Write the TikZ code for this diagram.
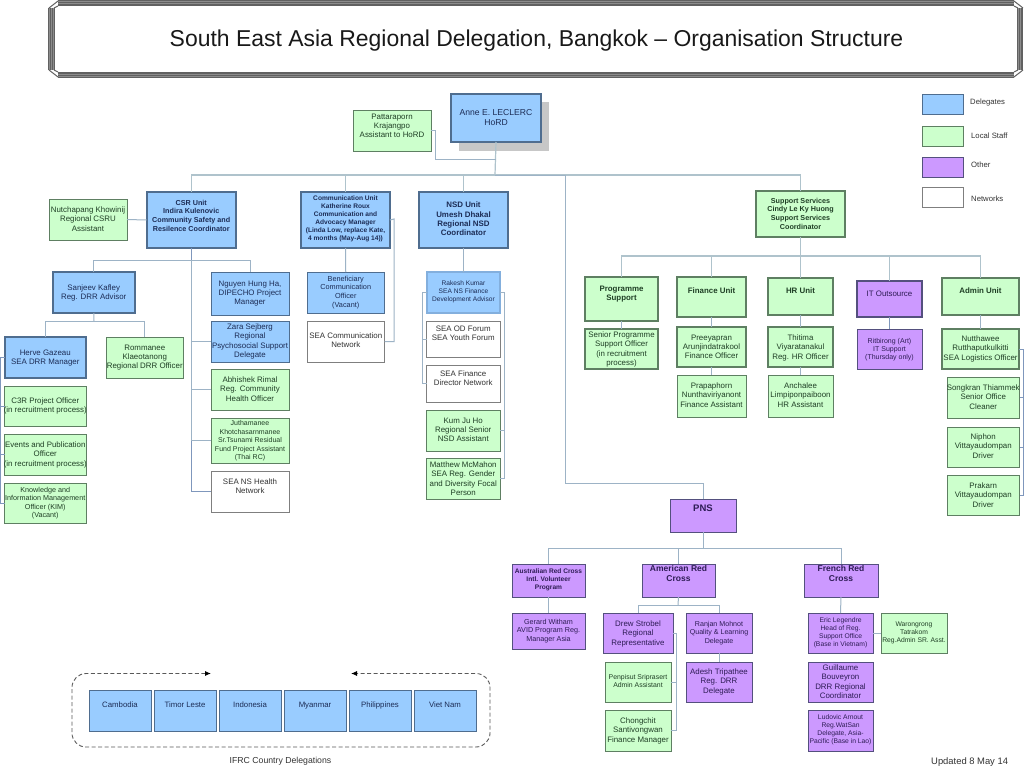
\documentclass[tikz,border=0pt]{standalone}
\usepackage{fontspec}
\setmainfont{Liberation Sans}
\usetikzlibrary{arrows.meta}
\definecolor{cblue}{HTML}{99CCFF}
\definecolor{cgreen}{HTML}{CCFFCC}
\definecolor{cpurple}{HTML}{CC99FF}
\definecolor{lblue}{HTML}{4F6D8F}
\definecolor{lgreen}{HTML}{5E7F62}
\definecolor{lpurple}{HTML}{54507E}
\definecolor{lwhite}{HTML}{7F7F7F}
\definecolor{tblue}{HTML}{1C2C55}
\definecolor{tgreen}{HTML}{1F3F25}
\definecolor{tpurple}{HTML}{2E1C55}
\definecolor{twhite}{HTML}{333333}
\definecolor{wire}{HTML}{9DB3C6}
\definecolor{wiretop}{HTML}{AFC3CC}
\definecolor{wirebold}{HTML}{7F97BC}
\newcommand{\ftsize}[2]{\fontsize{#1}{#2}\selectfont}
% name, x1, y1, x2, y2, style, top pad, text
\newcommand{\bx}[8]{%
  \pgfmathsetlengthmacro{\bw}{#4-#2}%
  \pgfmathsetlengthmacro{\bh}{#5-#3}%
  \node[orgbox,#6] (#1) at (#2,#3) {\vbox to \bh{\hrule height 0pt width \bw\relax\hsize=\bw\relax\kern #7pt\kern 1pt\relax
    \tolerance=9999\leftskip=-6pt plus 1fil\rightskip=-6pt plus 1fil\parfillskip=0pt\parindent=0pt\parskip=0pt\relax
    \let\\\par\relax #8\par\vss}};}
\tikzset{
  orgbox/.style={anchor=north west,inner sep=0pt,outer sep=0pt,draw,line width=1pt},
  blue/.style={fill=cblue,draw=lblue,text=tblue},
  green/.style={fill=cgreen,draw=lgreen,text=tgreen},
  purple/.style={fill=cpurple,draw=lpurple,text=tpurple},
  network/.style={fill=white,draw=lwhite,text=twhite},
  heavy/.style={line width=2pt},
  fn/.style={font=\ftsize{7.9}{9.2}},
  fs/.style={font=\ftsize{7.3}{8.6}},
  fq/.style={font=\ftsize{7.05}{8.5}},
  fx/.style={font=\ftsize{6.75}{8}},
  fc/.style={font=\ftsize{7.8}{9}},
  fb/.style={font=\bfseries\ftsize{7.2}{8.7}},
  fbb/.style={font=\bfseries\ftsize{7.9}{9.3}},
  fbx/.style={font=\bfseries\ftsize{6.6}{8}},
  wires/.style={draw=wire,line width=1pt},
  topwires/.style={draw=wiretop,line width=1.2pt},
  framebar/.style={draw=black!62,line width=1pt},
  frameband/.style={draw=black!45,line width=5.5pt},
  label/.style={inner sep=0pt,text=twhite}
}
\begin{document}
\begin{tikzpicture}[x=1pt,y=-1pt]
\useasboundingbox (0,0) rectangle (1024,768);
\fill[white] (0,0) rectangle (1024,768);
% title frame
\draw[frameband] (58,3) -- (1014,3) (58,75) -- (1014,75) (51.5,8) -- (51.5,70) (1020,8) -- (1020,70);
\foreach \o in {0,1.8,3.6,5.2}{
  \draw[framebar] (58,0.8+\o) -- (1014,0.8+\o);
  \draw[framebar] (58,77.4-\o) -- (1014,77.4-\o);
  \draw[framebar] (48.8+\o,8) -- (48.8+\o,70);
  \draw[framebar] (1022.8-\o,8) -- (1022.8-\o,70);
}
\draw[framebar] (58,1) -- (49,8) (58,6) -- (54,8) (58,77) -- (49,70) (58,72) -- (54,70)
                (1014,1) -- (1023,8) (1014,6) -- (1018,8) (1014,77) -- (1023,70) (1014,72) -- (1018,70);
\node[inner sep=0pt,font=\ftsize{22.95}{27},text=black!90] (title) at (536.5,41) {South East Asia Regional Delegation, Bangkok – Organisation Structure};
% coordinates
\coordinate (busT) at (495,175);
\coordinate (busA) at (565,483);
\coordinate (busCsr) at (191,260);
\coordinate (busDrr) at (94,321);
\coordinate (busSup) at (800,256);
\coordinate (busPns) at (703,548);
\coordinate (busUs) at (678,605);
\coordinate (jogPa) at (435,159);
% shadow
\fill[black!22] (459,102) rectangle (549,151);
% boxes
\bx{hord}{451}{94}{541}{142}{blue,heavy,font=\ftsize{8.6}{10.4}}{14}{Anne E. LECLERC\\HoRD}
\bx{patta}{353}{110}{431}{151}{green,fn}{3}{Pattaraporn\\Krajangpo\\Assistant to HoRD}
\bx{csr}{146.5}{192}{236}{248}{blue,heavy,fb}{7}{CSR Unit\\Indira Kulenovic\\Community Safety and\\Resilence Coordinator}
\bx{nutch}{49}{199}{127}{240}{green,fn}{7}{Nutchapang Khowinij\\Regional CSRU\\Assistant}
\bx{sanjeev}{53}{272}{134.5}{313}{blue,heavy,fn}{12}{Sanjeev Kafley\\Reg. DRR Advisor}
\bx{nguyen}{211}{272}{289}{315}{blue,fn}{8}{Nguyen Hung Ha,\\DIPECHO Project\\Manager}
\bx{herve}{4.5}{337}{86}{378}{blue,heavy,fn}{12}{Herve Gazeau\\SEA DRR Manager}
\bx{romm}{106}{337}{183.5}{378}{green,fn}{7}{Rommanee\\Klaeotanong\\Regional DRR Officer}
\bx{c3r}{4.5}{386}{86}{426}{green,fn}{11}{C3R Project Officer\\(in recruitment process)}
\bx{events}{4.5}{434}{86}{475}{green,fn}{7}{Events and Publication\\Officer\\(in recruitment process)}
\bx{kim}{4.5}{483}{86}{523}{green,font=\ftsize{7.2}{8.5}}{3}{Knowledge and\\Information Management\\Officer (KIM)\\(Vacant)}
\bx{zara}{211}{321}{289}{362}{blue,fn}{2}{Zara Sejberg\\Regional\\Psychosocial Support\\Delegate}
\bx{abhi}{211}{369}{289}{410}{green,fn}{7}{Abhishek Rimal\\Reg. Community\\Health Officer}
\bx{jutha}{211}{418}{289}{463}{green,font=\ftsize{7}{8.5}}{1.5}{Juthamanee\\Khotchasarnmanee\\Sr.Tsunami Residual\\Fund Project Assistant\\(Thai RC)}
\bx{seans}{211}{471}{289}{512}{network,fn}{7}{SEA NS Health\\Network}
\bx{comm}{301}{192}{390}{248}{blue,heavy,fbx}{3}{Communication Unit\\Katherine Roux\\Communication and\\Advocacy Manager\\(Linda Low, replace Kate,\\4 months (May-Aug 14))}
\bx{benef}{307}{272}{384.5}{313}{blue,fs}{3}{Beneficiary\\Communication\\Officer\\(Vacant)}
\bx{seacomm}{307}{321}{384.5}{362}{network,fn}{11}{SEA Communication\\Network}
\bx{nsd}{419}{192}{508}{248}{blue,heavy,fbb}{9}{NSD Unit\\Umesh Dhakal\\Regional NSD\\Coordinator}
\bx{rakesh}{427}{272}{500}{313}{fill=cblue,draw=cblue!70!lblue,text=tblue,heavy,font=\ftsize{6.6}{8}}{8}{Rakesh Kumar\\SEA NS Finance\\Development Advisor}
\bx{seaod}{426.5}{321}{500}{357}{network,fn}{4}{SEA OD Forum\\SEA Youth Forum}
\bx{seafin}{426.5}{365}{500}{402}{network,fn}{5}{SEA Finance\\Director Network}
\bx{kum}{426.5}{410}{500}{451}{green,fn}{7}{Kum Ju Ho\\Regional Senior\\NSD Assistant}
\bx{matt}{426.5}{458}{500}{499}{green,fn}{3}{Matthew McMahon\\SEA Reg. Gender\\and Diversity Focal\\Person}
\bx{support}{756}{191}{845}{237}{green,heavy,fb}{6}{Support Services\\Cindy Le Ky Huong\\Support Services\\Coordinator}
\bx{prog}{585}{277}{658}{321}{green,heavy,fbb}{8}{Programme\\Support}
\bx{finance}{677}{277}{746}{317}{green,heavy,fbb}{10}{Finance Unit}
\bx{hr}{768}{278}{833}{315}{green,heavy,fbb}{9}{HR Unit}
\bx{it}{857}{281}{922}{317}{purple,heavy,fn}{9}{IT Outsource}
\bx{admin}{942}{278}{1019}{315}{green,heavy,fbb}{9}{Admin Unit}
\bx{senior}{585}{329}{658}{369}{green,heavy,fn}{2}{Senior Programme\\Support Officer\\(in recruitment\\process)}
\bx{preey}{677}{327}{746}{367}{green,heavy,fn}{7}{Preeyapran\\Arunjindatrakool\\Finance Officer}
\bx{prapa}{677}{375}{746}{417}{green,fn}{7}{Prapaphorn\\Nunthaviriyanont\\Finance Assistant}
\bx{thit}{768}{327}{833}{367}{green,heavy,fn}{7}{Thitima\\Viyaratanakul\\Reg. HR Officer}
\bx{anch}{768}{375}{833}{417}{green,fn}{7}{Anchalee\\Limpiponpaiboon\\HR Assistant}
\bx{ritt}{857}{329}{922}{369}{purple,font=\ftsize{7}{8}}{8}{Ritbirong (Art)\\IT Support\\(Thursday only)}
\bx{nutt}{942}{329}{1019}{369}{green,heavy,fn}{6}{Nutthawee\\Rutthaputkulkitti\\SEA Logistics Officer}
\bx{song}{947}{377}{1019.5}{418}{green,fn}{7}{Songkran Thiammek\\Senior Office\\Cleaner}
\bx{niph}{947}{427}{1019.5}{467}{green,fn}{6}{Niphon\\Vittayaudompan\\Driver}
\bx{prak}{947}{475}{1019.5}{515}{green,fn}{7}{Prakarn\\Vittayaudompan\\Driver}
\bx{pns}{670}{499}{736}{532}{purple,font=\bfseries\ftsize{9.5}{11}}{5}{PNS}
\bx{aus}{512}{564}{585}{597}{purple,fbx}{4}{Australian Red Cross\\Intl. Volunteer\\Program}
\bx{amer}{642}{564}{715}{597}{purple,font=\bfseries\ftsize{8.5}{10}}{0.5}{American Red\\Cross}
\bx{fren}{804}{564}{878}{597}{purple,font=\bfseries\ftsize{8.5}{10}}{0.5}{French Red\\Cross}
\bx{gerard}{512}{613}{585}{649}{purple,font=\ftsize{7.2}{8.6}}{5}{Gerard Witham\\AVID Program Reg.\\Manager Asia}
\bx{drew}{603}{613}{673}{653}{purple,fn}{7}{Drew Strobel\\Regional\\Representative}
\bx{ranjan}{686}{613}{752}{653}{purple,font=\ftsize{7.1}{8.6}}{7}{Ranjan Mohnot\\Quality \& Learning\\Delegate}
\bx{penp}{605}{662}{671}{702}{green,font=\ftsize{6.9}{8.5}}{11}{Penpisut Sriprasert\\Admin Assistant}
\bx{chong}{605}{710}{671}{751}{green,fn}{7}{Chongchit\\Santivongwan\\Finance Manager}
\bx{adesh}{686}{662}{752}{702}{purple,fn}{6}{Adesh Tripathee\\Reg. DRR\\Delegate}
\bx{eric}{808}{613}{873}{653}{purple,fx}{4}{Eric Legendre\\Head of Reg.\\Support Office\\(Base in Vietnam)}
\bx{waro}{881}{613}{947}{653}{green,fx}{8}{Warongrong\\Tatrakom\\Reg.Admin SR. Asst.}
\bx{guil}{808}{662}{873}{702}{purple,fn}{2}{Guillaume\\Bouveyron\\DRR Regional\\Coordinator}
\bx{ludo}{808}{710}{873}{751}{purple,fx}{4}{Ludovic Arnout\\Reg.WatSan\\Delegate, Asia-\\Pacific (Base in Lao)}
% countries
\bx{camb}{89}{690}{151}{731}{blue,fc}{11}{Cambodia}
\bx{timor}{154}{690}{216}{731}{blue,fc}{11}{Timor Leste}
\bx{indo}{219}{690}{281}{731}{blue,fc}{11}{Indonesia}
\bx{myan}{284}{690}{346}{731}{blue,fc}{11}{Myanmar}
\bx{phil}{349}{690}{411}{731}{blue,fc}{11}{Philippines}
\bx{viet}{414}{690}{476}{731}{blue,fc}{11}{Viet Nam}
% legend
\bx{legd}{922}{94}{963}{114}{blue}{0}{}
\bx{legl}{922}{126}{963}{146.5}{green}{0}{}
\bx{lego}{922}{157}{963}{177}{purple}{0}{}
\bx{legn}{922}{187}{963}{207}{network}{0}{}
\node[label,anchor=west,font=\ftsize{7.7}{9}] (txd) at (970,103) {Delegates};
\node[label,anchor=west,font=\ftsize{7.7}{9}] (txl) at (971,135.5) {Local Staff};
\node[label,anchor=west,font=\ftsize{7.7}{9}] (txo) at (971,165) {Other};
\node[label,anchor=west,font=\ftsize{7.7}{9}] (txn) at (971,198.5) {Networks};
\node[label,font=\ftsize{8.7}{10}] (ifrc) at (280.5,761.5) {IFRC Country Delegations};
\node[label,anchor=west,font=\ftsize{9.4}{10}] (upd) at (931,762) {Updated 8 May 14};
% dashed surround
\coordinate (arrL) at (211,673.5);
\coordinate (arrR) at (351,673.5);
\draw[draw=black!65,line width=.9pt,dash pattern=on 4pt off 2.5pt,rounded corners=14pt,
  {Latex[length=6pt,width=5pt,black]}-{Latex[length=6pt,width=5pt,black]}]
  (arrL) -- (72,673.5) -- (72,747) -- (490,747) -- (490,673.5) -- (arrR);
% connectors
\draw[topwires] (hord.south) -- (busT);
\draw[wires] (patta.east) -| (jogPa) -- (jogPa -| hord.south);
\draw[topwires] (csr.north) |- (busT) (comm.north) |- (busT) (nsd.north) |- (busT) (support.north) |- (busT);
\draw[wires] (pns.north) |- (busA) |- (busT);
\draw[wires] (nutch.east) -- (csr.west);
\draw[wires,draw=wirebold] (csr.south) |- (seans.west);
\draw[wires] (sanjeev.north) |- (busCsr) (nguyen.north) |- (busCsr);
\draw[wires] (zara.west) -| (busCsr);
\draw[wires] (abhi.west) -| (busCsr);
\draw[wires] (jutha.west) -| (busCsr);
\draw[wires] (sanjeev.south) -- (busDrr);
\draw[wires] (herve.north) |- (busDrr) (romm.north) |- (busDrr);
\coordinate (legL) at (0.8,357.5);
\draw[wires,draw=wirebold] (herve.west) -- (legL) |- (kim.west);
\draw[wires,draw=wirebold] (c3r.west) -| (legL);
\draw[wires,draw=wirebold] (events.west) -| (legL);
\draw[wires] (comm.south) -- (benef.north);
\coordinate (legC) at (394,219);
\draw[wires] (comm.east) -- (legC) |- (seacomm.east);
\draw[wires] (nsd.south) -- (rakesh.north);
\coordinate (legNl) at (422,292.5);
\coordinate (legNr) at (504,292.5);
\draw[wires] (rakesh.west) -- (legNl) |- (seafin.west);
\draw[wires] (seaod.west) -| (legNl);
\draw[wires] (rakesh.east) -- (legNr) |- (matt.east);
\draw[wires] (kum.east) -| (legNr);
\draw[topwires] (support.south) -- (hr.north);
\draw[topwires] (prog.north) |- (busSup) (finance.north) |- (busSup) (it.north) |- (busSup) (admin.north) |- (busSup);
\draw[wires] (prog.south) -- (senior.north);
\draw[wires] (finance.south) -- (preey.north);
\draw[wires] (preey.south) -- (prapa.north);
\draw[wires] (hr.south) -- (thit.north);
\draw[wires] (thit.south) -- (anch.north);
\draw[wires,draw=wirebold] (it.south) -- (ritt.north);
\draw[wires] (admin.south) -- (nutt.north);
\coordinate (legA) at (1023,349);
\draw[wires,draw=wirebold] (nutt.east) -- (legA) |- (prak.east);
\draw[wires,draw=wirebold] (song.east) -| (legA);
\draw[wires,draw=wirebold] (niph.east) -| (legA);
\draw[wires] (pns.south) -- (busPns);
\draw[wires] (aus.north) |- (busPns) (amer.north) |- (busPns) (fren.north) |- (busPns);
\draw[wires] (aus.south) -- (gerard.north);
\draw[wires] (amer.south) -- (busUs);
\draw[wires] (drew.north) |- (busUs) (ranjan.north) |- (busUs);
\draw[wires] (ranjan.south) -- (adesh.north);
\coordinate (legD) at (676,633);
\draw[wires] (drew.east) -- (legD) |- (chong.east);
\draw[wires] (penp.east) -| (legD);
\draw[wires] (fren.south) -- (eric.north);
\draw[wires] (eric.east) -- (waro.west);
\end{tikzpicture}
\end{document}
